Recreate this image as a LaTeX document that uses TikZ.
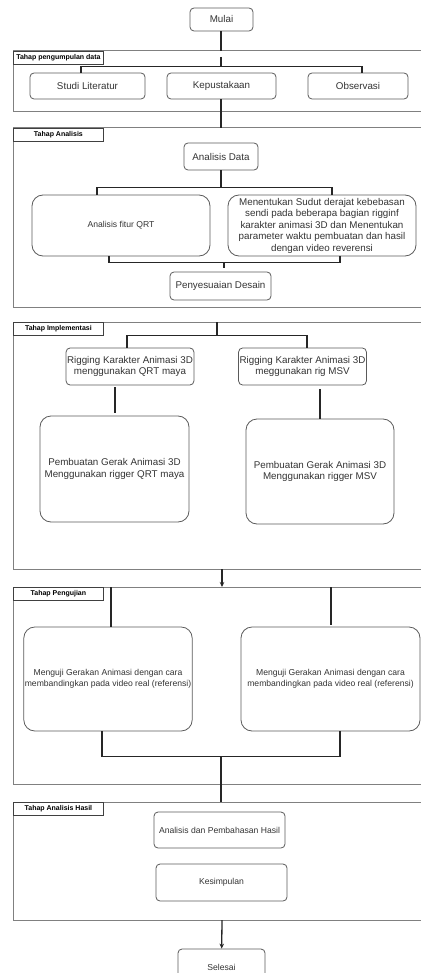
\documentclass[tikz,border=0pt]{standalone}
\usepackage{fontspec}
\setmainfont{Liberation Sans}
\usepackage{xcolor}
\usetikzlibrary{arrows.meta}
\definecolor{boxline}{HTML}{5A5A5A}
\definecolor{frameline}{HTML}{808080}
\definecolor{txt}{HTML}{333333}
\tikzset{
	box/.style = {shape=rectangle, rounded corners=4pt, draw=boxline, line width=0.8pt, text=txt, align=center, inner sep=1pt, font=\fontsize{9.8}{11.5}\selectfont},
	bigbox/.style = {box, rounded corners=11pt},
	frame/.style = {draw=frameline, line width=1pt},
	title/.style = {shape=rectangle, draw=black!75, line width=0.8pt, anchor=north west, minimum width=90pt, minimum height=13pt, inner sep=0pt, font=\fontsize{7}{8}\selectfont\bfseries},
	bus/.style = {draw=black!85, line width=1.3pt},
	arr/.style = {bus, -{Stealth[length=5pt,width=4.5pt]}}
}

\begin{document}
\begin{tikzpicture}[
	x=1pt,
	y=-1pt,
	small/.style={font=\fontsize{8.6}{10.5}\selectfont}
	]
	\useasboundingbox (0,0) rectangle (420,973);

	% frames
	\draw[frame] (13,51) rectangle (440,112);
	\draw[frame] (13,128) rectangle (440,307);
	\draw[frame] (13,322) rectangle (440,569);
	\draw[frame] (13,587) rectangle (440,784);
	\draw[frame] (13,802) rectangle (440,920);
	\node[title] (t1) at (13,51) {Tahap pengumpulan data};
	\node[title] (t2) at (13,128) {Tahap Analisis};
	\node[title] (t3) at (13,322) {Tahap Implementasi};
	\node[title] (t4) at (13,587) {Tahap Pengujian};
	\node[title] (t5) at (13,802) {Tahap Analisis Hasil};

	\coordinate (f1top) at (221,51);
	\coordinate (k1) at (221,57);
	\coordinate (f2top) at (221,128);
	\coordinate (k3) at (217,322);
	\coordinate (f3bot) at (222,569);
	\coordinate (f4top) at (222,587);
	\coordinate (j4) at (221,756);
	\coordinate (f5top) at (221,802);
	\coordinate (f5bot) at (222,920);

	% boxes
	\node[box, minimum width=63pt, minimum height=23pt] (mulai) at (221.5,19.5) {Mulai};
	\node[box, minimum width=115pt, minimum height=26pt] (studi) at (87.5,86) {Studi Literatur};
	\node[box, minimum width=109pt, minimum height=26pt] (kepus) at (221.5,86) {Kepustakaan};
	\node[box, minimum width=100pt, minimum height=26pt] (obs) at (358,86) {Observasi};

	\node[box, minimum width=74pt, minimum height=27pt] (andata) at (221,156.5) {Analisis Data};
	\node[bigbox, small, minimum width=178pt, minimum height=61pt] (qrt) at (121,225.5) {Analisis fitur QRT};
	\node[bigbox, minimum width=188pt, minimum height=61pt] (sudut) at (322,225.5) {Menentukan Sudut derajat kebebasan\\sendi pada beberapa bagian rigginf\\karakter animasi 3D dan Menentukan\\parameter waktu pembuatan dan hasil\\dengan video reverensi};
	\node[box, minimum width=101pt, minimum height=28pt] (desain) at (220.5,286) {Penyesuaian Desain};

	\node[box, minimum width=126pt, minimum height=37pt] (rigqrt) at (130,366.5) {Rigging Karakter Animasi 3D\\menggunakan QRT maya};
	\node[box, minimum width=127pt, minimum height=37pt] (rigmsv) at (302.5,366.5) {Rigging Karakter Animasi 3D\\meggunakan rig MSV};
	\node[bigbox, minimum width=149pt, minimum height=106pt] (gerqrt) at (114.5,469) {Pembuatan Gerak Animasi 3D\\Menggunakan rigger QRT maya};
	\node[bigbox, minimum width=148pt, minimum height=105pt] (germsv) at (320,471.5) {Pembuatan Gerak Animasi 3D\\Menggunakan rigger MSV};

	\node[bigbox, small, minimum width=166pt, minimum height=104pt] (ujiqrt) at (108,679) {Menguji Gerakan Animasi dengan cara\\membandingkan pada video real (referensi)};
	\node[bigbox, small, minimum width=179pt, minimum height=104pt] (ujimsv) at (330.5,679) {Menguji Gerakan Animasi dengan cara\\membandingkan pada video real (referensi)};

	\node[box, small, minimum width=131pt, minimum height=36pt] (bahas) at (219.5,830) {Analisis dan Pembahasan Hasil};
	\node[box, small, minimum width=131pt, minimum height=37pt] (simpul) at (221.5,882.5) {Kesimpulan};
	\node[box, small, minimum width=87pt, minimum height=36pt] (selesai) at (221.5,967) {Selesai};

	% connectors
	\draw[bus] (mulai.south -| f1top) -- (f1top);
	\draw[bus] (k1) -- ++(0,10);
	\draw[bus] ([xshift=-6.5pt]studi.north) -- ++(0,-6) -| ([xshift=4pt]obs.north);
	\draw[bus] (kepus.south -| f2top) -- (f2top);

	\draw[bus] (andata.south) -- ++(0,18);
	\draw[bus] ([xshift=-24pt]qrt.north) -- ++(0,-7) -| ([xshift=10pt]sudut.north);
	\draw[bus] ([xshift=-12pt]qrt.south) -- ++(0,6) -| ([xshift=18pt]sudut.south);
	\draw[bus] ([shift={(3.5pt,4pt)}]desain.north) -- ++(0,-6);

	\draw[bus] (k3) -- ++(0,14);
	\draw[bus] ([xshift=-3pt]rigqrt.north) -- ++(0,-12) -| ([xshift=4.5pt]rigmsv.north);
	\draw[bus] ([shift={(-15pt,-2pt)}]rigqrt.south) -- ([shift={(0.5pt,3pt)}]gerqrt.north);
	\draw[bus] ([shift={(17.5pt,-4pt)}]rigmsv.south) -- (germsv.north);
	\draw[arr] (f3bot) -- (f4top);

	\draw[bus] ([xshift=3pt]ujiqrt.north) -- ([xshift=3pt]ujiqrt.north |- f4top);
	\draw[bus] ([xshift=0.5pt,yshift=2pt]ujimsv.north) -- ([xshift=0.5pt]ujimsv.north |- f4top);
	\draw[bus] ([xshift=-6pt]ujiqrt.south) -- ++(0,25) -| ([xshift=9.5pt]ujimsv.south);
	\draw[bus] (j4) -- (f5top);
	\draw[arr] (f5bot) -- (selesai);
\end{tikzpicture}
\end{document}
